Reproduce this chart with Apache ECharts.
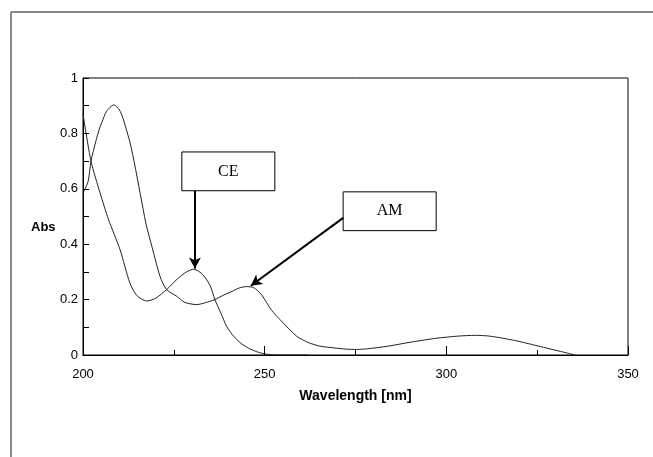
<!DOCTYPE html>
<html>
<head>
<meta charset="utf-8">
<script src="https://cdn.jsdelivr.net/npm/echarts@6/dist/echarts.min.js"></script>
<style>html,body{margin:0;padding:0;background:#fff;}#c{width:653px;height:457px;}</style>
</head>
<body>
<div id="c"></div>
<script>
// Wavelength (nm) and absorbance for CE
var ceX = [200, 202.2, 204.7, 207, 210.2, 212.9, 214.8, 217.5, 220, 223, 226, 228.5, 230.5, 233, 235, 236.3, 238, 239.5, 241, 243.2, 245.5, 247.8, 250, 253, 262];
var ceY = [0.87, 0.70, 0.585, 0.49, 0.38, 0.26, 0.215, 0.195, 0.205, 0.236, 0.275, 0.30, 0.31, 0.29, 0.25, 0.20, 0.15, 0.104, 0.075, 0.045, 0.025, 0.012, 0.004, 0, 0];
// Wavelength (nm) and absorbance for AM
var amX = [200, 201.4, 202.2, 203.5, 204.6, 205.2, 206.5, 208.5, 210, 211, 213.3, 216.5, 217.4, 219, 221.2, 223, 225.8, 228, 231.3, 234, 236.3, 238.5, 241.4, 243, 245, 247, 249, 250.5, 252, 254.2, 258.8, 262, 265.2, 268.8, 272.6, 275.3, 278, 284, 290, 297, 303, 308, 312, 319, 326, 333, 335.4];
var amY = [0.585, 0.626, 0.70, 0.77, 0.82, 0.84, 0.88, 0.903, 0.885, 0.855, 0.747, 0.53, 0.47, 0.39, 0.284, 0.236, 0.212, 0.19, 0.182, 0.19, 0.20, 0.215, 0.232, 0.242, 0.247, 0.243, 0.22, 0.19, 0.16, 0.128, 0.068, 0.045, 0.032, 0.026, 0.021, 0.02, 0.022, 0.032, 0.046, 0.06, 0.068, 0.071, 0.068, 0.052, 0.03, 0.008, 0];
var xTicks = [200, 250, 300, 350];
var yTicks = [0, 0.2, 0.4, 0.6, 0.8, 1];
var labels = ['CE', 'AM'];

function pairs(xs, ys) { return xs.map(function (x, i) { return [x, ys[i]]; }); }

var sans = "'Liberation Sans',Arial,sans-serif";
var chart = echarts.init(document.getElementById('c'));
chart.setOption({
  animation: false,
  backgroundColor: '#fff',
  graphic: [
    { type: 'line', shape: { x1: 11, y1: 12, x2: 653, y2: 12 }, style: { stroke: '#8a8a8a', lineWidth: 2 } },
    { type: 'line', shape: { x1: 11, y1: 12, x2: 11, y2: 457 }, style: { stroke: '#8a8a8a', lineWidth: 2 } },
    { type: 'text', left: 31, top: 221, style: { text: 'Abs', font: 'bold 13px ' + sans, fill: '#000' } }
  ],
  grid: { left: 83, right: 25, top: 78, bottom: 102, show: true, borderColor: '#000', borderWidth: 1, backgroundColor: 'transparent' },
  xAxis: {
    type: 'value', min: xTicks[0], max: xTicks[xTicks.length - 1], interval: 50,
    name: 'Wavelength [nm]', nameLocation: 'middle', nameGap: 34,
    nameTextStyle: { fontFamily: sans, fontWeight: 'bold', fontSize: 14, color: '#000' },
    axisLine: { lineStyle: { color: '#000', width: 1 } },
    axisTick: { inside: true, length: 9, lineStyle: { color: '#000' } },
    minorTick: { show: true, splitNumber: 2, length: 5, lineStyle: { color: '#000' } },
    splitLine: { show: false },
    axisLabel: { fontFamily: sans, fontSize: 13, color: '#000', margin: 13 }
  },
  yAxis: {
    type: 'value', min: yTicks[0], max: yTicks[yTicks.length - 1], interval: 0.2,
    axisLine: { show: true, lineStyle: { color: '#000', width: 1 } },
    axisTick: { show: true, inside: true, length: 6, lineStyle: { color: '#000' } },
    minorTick: { show: true, splitNumber: 2, length: 6, lineStyle: { color: '#000' } },
    splitLine: { show: false },
    axisLabel: { fontFamily: sans, fontSize: 13, color: '#000', margin: 5, padding: [6, 0, 0, 0] }
  },
  series: [
    {
      name: 'CE', type: 'line', data: pairs(ceX, ceY), smooth: 0.25, symbol: 'none',
      lineStyle: { color: '#222', width: 1 },
      markArea: {
        silent: true,
        itemStyle: { color: '#fff', borderColor: '#000', borderWidth: 1 },
        label: { show: true, position: 'inside', fontFamily: "'Liberation Serif','DejaVu Serif',serif", fontSize: 16, color: '#000' },
        data: [
          [{ name: labels[0], coord: [227.2, 0.733] }, { coord: [252.8, 0.593] }],
          [{ name: labels[1], coord: [271.6, 0.589] }, { coord: [297.2, 0.449] }]
        ]
      },
      markLine: {
        silent: true, symbol: ['none', 'arrow'], symbolSize: [9, 11],
        label: { show: false },
        lineStyle: { color: '#000', width: 2, type: 'solid' },
        data: [
          [{ coord: [230.8, 0.593] }, { coord: [230.8, 0.312] }],
          [{ coord: [271.6, 0.495] }, { coord: [246.2, 0.25] }]
        ]
      }
    },
    {
      name: 'AM', type: 'line', data: pairs(amX, amY), smooth: 0.25, symbol: 'none',
      lineStyle: { color: '#222', width: 1 }
    }
  ]
});
</script>
</body>
</html>
